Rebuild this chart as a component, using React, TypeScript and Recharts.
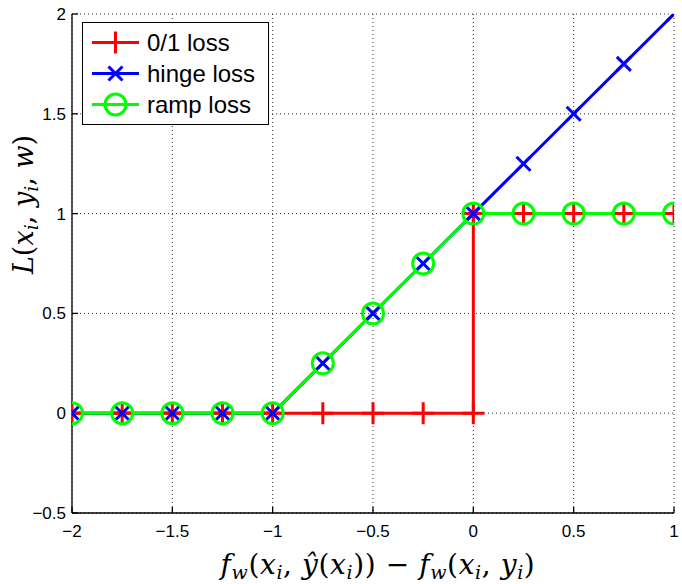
import { ComposedChart, Line, XAxis, YAxis, CartesianGrid, Legend, Label } from "recharts";

// sample positions along the margin axis
const marginX = [-2, -1.75, -1.5, -1.25, -1, -0.75, -0.5, -0.25, 0, 0.25, 0.5, 0.75, 1];
const hingeY = [0, 0, 0, 0, 0, 0.25, 0.5, 0.75, 1, 1.25, 1.5, 1.75, 2];
const rampY = [0, 0, 0, 0, 0, 0.25, 0.5, 0.75, 1, 1, 1, 1, 1];

// 0/1 loss has the step at 0, so x=0 appears twice
const zeroOneX = [-2, -1.75, -1.5, -1.25, -1, -0.75, -0.5, -0.25, 0, 0, 0.25, 0.5, 0.75, 1];
const zeroOneY = [0, 0, 0, 0, 0, 0, 0, 0, 0, 1, 1, 1, 1, 1];

const xTicks = [-2, -1.5, -1, -0.5, 0, 0.5, 1];
const yTicks = [-0.5, 0, 0.5, 1, 1.5, 2];

const seriesNames = ["0/1 loss", "hinge loss", "ramp loss"];
const seriesColors = ["#ff0000", "#0000ff", "#00ff00"];
const seriesMarkers = ["plus", "cross", "circle"];

const zeroOneData = zeroOneX.map((x, i) => ({ x, y: zeroOneY[i] }));
const hingeData = marginX.map((x, i) => ({ x, y: hingeY[i] }));
const rampData = marginX.map((x, i) => ({ x, y: rampY[i] }));

const fmt = (v: number) => String(v).replace("-", "\u2212");

function Marker({ kind, cx, cy, color }: { kind: string; cx: number; cy: number; color: string }) {
  if (kind === "plus") {
    const s = 11;
    return (
      <path
        d={`M${cx - s},${cy}H${cx + s}M${cx},${cy - s}V${cy + s}`}
        stroke={color}
        strokeWidth={3}
        fill="none"
      />
    );
  }
  if (kind === "cross") {
    const s = 7;
    return (
      <path
        d={`M${cx - s},${cy - s}L${cx + s},${cy + s}M${cx - s},${cy + s}L${cx + s},${cy - s}`}
        stroke={color}
        strokeWidth={3}
        fill="none"
      />
    );
  }
  return <circle cx={cx} cy={cy} r={10.5} stroke={color} strokeWidth={3} fill="none" />;
}

const dotFor = (kind: string, color: string) => (p: any) =>
  <Marker key={`${kind}-${p.index}`} kind={kind} cx={p.cx} cy={p.cy} color={color} />;

function LegendBox() {
  return (
    <div
      style={{
        width: 185,
        height: 97,
        border: "1.5px solid #000",
        background: "#fff",
        paddingTop: 4,
        boxSizing: "content-box",
        fontFamily: "'Liberation Sans', Arial, sans-serif",
        fontSize: 24,
      }}
    >
      {seriesNames.map((name, i) => (
        <div key={name} style={{ height: 31, display: "flex", alignItems: "center" }}>
          <svg width={64} height={31} style={{ display: "block" }}>
            <line x1={9} x2={56} y1={15.5} y2={15.5} stroke={seriesColors[i]} strokeWidth={3} />
            <Marker kind={seriesMarkers[i]} cx={32.5} cy={15.5} color={seriesColors[i]} />
          </svg>
          <span style={{ lineHeight: "31px" }}>{name}</span>
        </div>
      ))}
    </div>
  );
}

const MATH_FONT = "'DejaVu Serif', serif";
const SUB = 19;

function XTitle(props: any) {
  const vb = props.viewBox || { x: 72, y: 513, width: 602 };
  const cx = vb.x + vb.width / 2 + 5;
  return (
    <text
      x={cx}
      y={574}
      textAnchor="middle"
      fontFamily={MATH_FONT}
      fontSize={28}
      letterSpacing={0.6}
      fill="#000"
    >
      <tspan fontStyle="italic">f</tspan>
      <tspan fontStyle="italic" fontSize={SUB} dy={5}>w</tspan>
      <tspan dy={-5}>(</tspan>
      <tspan fontStyle="italic">x</tspan>
      <tspan fontStyle="italic" fontSize={SUB} dy={5}>i</tspan>
      <tspan dy={-5}>, </tspan>
      <tspan fontStyle="italic">ŷ</tspan>
      <tspan>(</tspan>
      <tspan fontStyle="italic">x</tspan>
      <tspan fontStyle="italic" fontSize={SUB} dy={5}>i</tspan>
      <tspan dy={-5}>)) {"\u2212"} </tspan>
      <tspan fontStyle="italic">f</tspan>
      <tspan fontStyle="italic" fontSize={SUB} dy={5}>w</tspan>
      <tspan dy={-5}>(</tspan>
      <tspan fontStyle="italic">x</tspan>
      <tspan fontStyle="italic" fontSize={SUB} dy={5}>i</tspan>
      <tspan dy={-5}>, </tspan>
      <tspan fontStyle="italic">y</tspan>
      <tspan fontStyle="italic" fontSize={SUB} dy={5}>i</tspan>
      <tspan dy={-5}>)</tspan>
    </text>
  );
}

function YTitle(props: any) {
  const vb = props.viewBox || { x: 12, y: 14, height: 499 };
  const cy = vb.y + vb.height / 2 - 59;
  const cx = 33;
  return (
    <text
      x={cx}
      y={cy}
      transform={`rotate(-90, ${cx}, ${cy})`}
      textAnchor="middle"
      fontFamily={MATH_FONT}
      fontSize={27}
      fill="#000"
    >
      <tspan fontStyle="italic">L</tspan>
      <tspan>(</tspan>
      <tspan fontStyle="italic">x</tspan>
      <tspan fontStyle="italic" fontSize={SUB} dy={5}>i</tspan>
      <tspan dy={-5}>, </tspan>
      <tspan fontStyle="italic">y</tspan>
      <tspan fontStyle="italic" fontSize={SUB} dy={5}>i</tspan>
      <tspan dy={-5}>, </tspan>
      <tspan fontStyle="italic">w</tspan>
      <tspan>)</tspan>
    </text>
  );
}

const tickStyle = { fill: "#000", fontSize: 17, fontFamily: "'Liberation Sans', Arial, sans-serif" };
const axisLine = { stroke: "#000", strokeWidth: 1.3 };

export default function App() {
  return (
    <div style={{ position: "absolute", left: 0, top: 0, background: "#fff" }}>
      <ComposedChart width={682} height={584} margin={{ top: 14, right: 8, bottom: 31, left: 12 }}>
        <CartesianGrid stroke="#333" strokeDasharray="1 3" strokeWidth={1} />
        <XAxis
          dataKey="x"
          type="number"
          domain={[-2, 1]}
          ticks={xTicks}
          allowDataOverflow
          height={40}
          tickSize={-6}
          tickMargin={18}
          tickFormatter={fmt}
          tick={tickStyle}
          axisLine={axisLine}
          tickLine={axisLine}
        >
          <Label content={XTitle} />
        </XAxis>
        <XAxis
          xAxisId="top"
          orientation="top"
          type="number"
          domain={[-2, 1]}
          ticks={xTicks}
          allowDataOverflow
          height={0}
          tickSize={-6}
          tick={false}
          axisLine={axisLine}
          tickLine={axisLine}
        />
        <YAxis
          type="number"
          domain={[-0.5, 2]}
          ticks={yTicks}
          allowDataOverflow
          width={60}
          tickSize={-6}
          tickMargin={12}
          tickFormatter={fmt}
          tick={tickStyle}
          axisLine={axisLine}
          tickLine={axisLine}
        >
          <Label content={YTitle} />
        </YAxis>
        <YAxis
          yAxisId="right"
          orientation="right"
          type="number"
          domain={[-0.5, 2]}
          ticks={yTicks}
          allowDataOverflow
          width={0}
          tickSize={-6}
          tick={false}
          axisLine={axisLine}
          tickLine={axisLine}
        />
        <Legend
          layout="vertical"
          align="center"
          verticalAlign="middle"
          content={() => <LegendBox />}
          wrapperStyle={{ left: 82, top: 22, width: "auto", height: "auto" }}
        />
        <Line
          data={zeroOneData}
          dataKey="y"
          name={seriesNames[0]}
          type="linear"
          stroke={seriesColors[0]}
          strokeWidth={3}
          dot={dotFor(seriesMarkers[0], seriesColors[0])}
          activeDot={false}
          isAnimationActive={false}
        />
        <Line
          data={hingeData}
          dataKey="y"
          name={seriesNames[1]}
          type="linear"
          stroke={seriesColors[1]}
          strokeWidth={3}
          dot={dotFor(seriesMarkers[1], seriesColors[1])}
          activeDot={false}
          isAnimationActive={false}
        />
        <Line
          data={rampData}
          dataKey="y"
          name={seriesNames[2]}
          type="linear"
          stroke={seriesColors[2]}
          strokeWidth={3}
          dot={dotFor(seriesMarkers[2], seriesColors[2])}
          activeDot={false}
          isAnimationActive={false}
        />
      </ComposedChart>
    </div>
  );
}
